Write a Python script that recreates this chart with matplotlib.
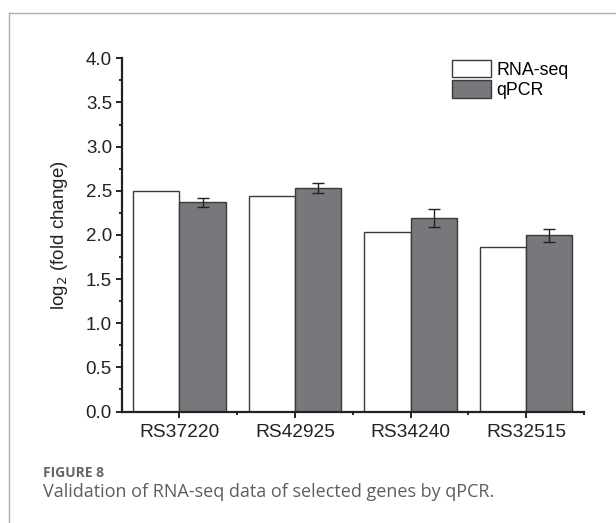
import matplotlib
matplotlib.use("Agg")
import matplotlib.pyplot as plt
from matplotlib.patches import Patch
from matplotlib.lines import Line2D
import numpy as np

genes = ["RS37220", "RS42925", "RS34240", "RS32515"]
rnaseq = [2.50, 2.44, 2.036, 1.863]
qpcr = [2.367, 2.53, 2.188, 1.995]
qpcr_err = [0.05, 0.053, 0.10, 0.071]
y_ticks = [0.0, 0.5, 1.0, 1.5, 2.0, 2.5, 3.0, 3.5, 4.0]

plt.rcParams['font.family'] = ['Liberation Sans', 'DejaVu Sans']

W, H = 616, 523
L, R, B, T = 121.7, 584.0, 411.5, 58.3
fig = plt.figure(figsize=(W/100, H/100), dpi=100)
ax = fig.add_axes([L/W, 1-B/H, (R-L)/W, (B-T)/H])

x = np.arange(len(genes))
w = 0.4
edge = '#3a3a3a'
gray = '#77787b'
ax.bar(x - w/2, rnaseq, w, color='white', edgecolor=edge, linewidth=1.0, zorder=2)
ax.bar(x + w/2, qpcr, w, color=gray, edgecolor=edge, linewidth=1.0, zorder=2)
ax.errorbar(x + w/2, qpcr, yerr=qpcr_err, fmt='none', ecolor='#222222', elinewidth=1.0,
            capsize=4, capthick=1.0, zorder=3)

ax.set_xlim(-0.5, 3.5)
ax.set_ylim(0, 4.0)
ax.set_yticks(y_ticks)
ax.set_yticklabels([f"{v:.1f}" for v in y_ticks])
ax.set_yticks(np.arange(0.25, 4.0, 0.5), minor=True)
ax.set_xticks(x)
ax.set_xticklabels(genes)
ax.set_xticks([0.5, 1.5, 2.5, 3.5], minor=True)

for s in ['top', 'right']:
    ax.spines[s].set_visible(False)
for s in ['left', 'bottom']:
    ax.spines[s].set_linewidth(1.6)
    ax.spines[s].set_color('#222222')

ax.tick_params(axis='both', which='major', direction='out', length=4, width=1.4, color='#222222',
               labelcolor='#222222')
ax.tick_params(axis='both', which='minor', direction='out', length=2.2, width=1.4, color='#222222')
ax.tick_params(axis='y', which='major', labelsize=13.5, pad=3)
ax.tick_params(axis='x', which='major', labelsize=13.8, pad=5)

ax.set_ylabel(r'log$_2$ (fold change)', fontsize=13.5, color='#222222', labelpad=11)

handles = [Patch(facecolor='white', edgecolor=edge, linewidth=1.0),
           Patch(facecolor=gray, edgecolor=edge, linewidth=1.0)]
ax.legend(handles, ['RNA-seq', 'qPCR'], loc='upper left',
          bbox_to_anchor=((451.7-L)/(R-L), (B-60)/(B-T)),
          frameon=False, fontsize=12.8, handlelength=2.2, handleheight=1.12,
          handletextpad=0.33, labelspacing=0.1, borderaxespad=0, borderpad=0)

# Frame lines
fig.add_artist(Line2D([9/W, 9/W], [0, 1-13/H], color='#b0b0b0', linewidth=1.0, transform=fig.transFigure))
fig.add_artist(Line2D([9/W, 1], [1-13/H, 1-13/H], color='#b0b0b0', linewidth=1.0, transform=fig.transFigure))

fig.text(43/W, 1-477/H, 'FIGURE 8', fontsize=10, fontweight='bold', color='#666666',
         family=['Open Sans', 'DejaVu Sans'], va='baseline', ha='left')
fig.text(43/W, 1-497/H, 'Validation of RNA-seq data of selected genes by qPCR.', fontsize=13,
         color='#5e5e5e', family=['Open Sans', 'DejaVu Sans'], va='baseline', ha='left')

fig.savefig('out.png', dpi=100)
